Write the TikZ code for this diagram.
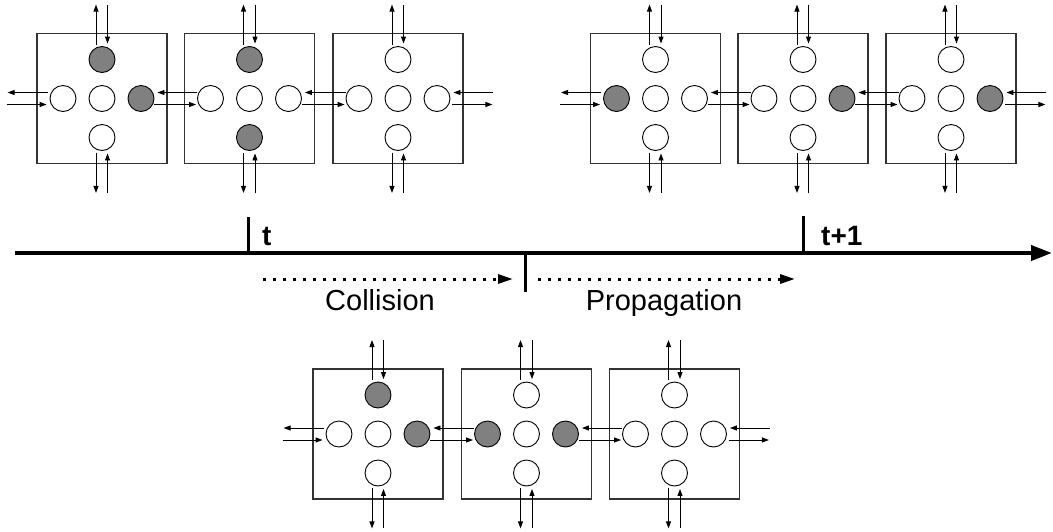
\documentclass[tikz,border=0pt]{standalone}
\usepackage{fontspec}
\setmainfont{Liberation Sans}
\usetikzlibrary{arrows.meta}
\definecolor{occ}{gray}{0.5}

\begin{document}
\begin{tikzpicture}[x=1pt,y=-1pt,
  cellbox/.style={draw=black!80,line width=1.2pt},
  site/.style={circle,draw=black,line width=0.9pt,minimum size=26pt,inner sep=0pt},
  flow/.style={line width=0.9pt,-{Triangle[length=7pt,width=5pt]}},
  tick/.style={line width=3pt},
  phase/.style={line width=3pt,dash pattern=on 3pt off 7pt,-{Triangle[length=15pt,width=9pt]}},
  stamp/.style={font=\fontsize{28}{30}\selectfont\bfseries,inner sep=0pt},
  step label/.style={font=\fontsize{29}{32}\selectfont,inner sep=0pt}]
\useasboundingbox (0,0) rectangle (1053,531);

% Lattice cells: name / centre / fill of north, west, east, south site
\foreach \n/\x/\y/\cn/\cw/\ce/\cs in {
    a1/102/98.5/occ/white/occ/white, a2/249.5/98.5/occ/white/white/occ,
    a3/398/98.5/white/white/white/white,
    b1/655.5/98.5/white/occ/white/white, b2/803/98.5/white/white/occ/white,
    b3/951/98.5/white/white/occ/white,
    c1/378/434/occ/white/occ/white, c2/526.5/434/white/occ/occ/white,
    c3/674.5/434/white/white/white/white} {
  \draw[cellbox] (\x-65,\y-65) rectangle (\x+65,\y+65);
  \node[site,fill=\cn] (\n-n) at (\x,\y-39) {};
  \node[site,fill=\cw] (\n-w) at (\x-39,\y) {};
  \node[site,fill=white] (\n-c) at (\x,\y) {};
  \node[site,fill=\ce] (\n-e) at (\x+39,\y) {};
  \node[site,fill=\cs] (\n-s) at (\x,\y+39) {};
  % streaming in and out through top and bottom
  \draw[flow] ([xshift=-6pt,yshift=1.5pt]\n-n.north) -- ++(0,-40);
  \draw[flow] ([xshift=5.5pt,yshift=41.5pt]\n-n.north) -- ([xshift=5.5pt,yshift=2.5pt]\n-n.north);
  \draw[flow] ([xshift=-6pt,yshift=-2pt]\n-s.south) -- ++(0,40);
  \draw[flow] ([xshift=5.5pt,yshift=-42pt]\n-s.south) -- ([xshift=5.5pt,yshift=-2.5pt]\n-s.south);
}

% links between neighbouring cells
\foreach \l/\r in {a1/a2,a2/a3,b1/b2,b2/b3,c1/c2,c2/c3} {
  \draw[flow,shorten >=3pt] ([yshift=6pt]\r-w.west) -- ([yshift=6pt]\l-e.east);
  \draw[flow,shorten >=1pt] ([yshift=-6pt]\l-e.east) -- ([yshift=-6pt]\r-w.west);
}
% open ends on the left and right
\foreach \r in {a1,b1,c1} {
  \draw[flow] ([xshift=-2pt,yshift=6pt]\r-w.west) -- ++(-40,0);
  \draw[flow] ([xshift=-43pt,yshift=-6pt]\r-w.west) -- ([xshift=-3pt,yshift=-6pt]\r-w.west);
}
\foreach \l in {a3,b3,c3} {
  \draw[flow] ([xshift=43pt,yshift=6pt]\l-e.east) -- ([xshift=3pt,yshift=6pt]\l-e.east);
  \draw[flow] ([xshift=2pt,yshift=-6pt]\l-e.east) -- ++(40,0);
}

% Time axis
\coordinate (axL) at (15,253);
\coordinate (axR) at (1052,253);
\draw[line width=4pt,-{Triangle[length=21pt,width=15pt]}] (axL) -- (axR);
\coordinate (tnow) at (248.5,253);
\coordinate (tmid) at (525,253);
\coordinate (tnext) at (803,253);
\draw[tick] (tnow) -- ++(0,-36);
\draw[tick] (tmid) -- ++(0,39);
\draw[tick] (tnext) -- ++(0,-37);
\node[stamp,anchor=base west] (lnow) at (262,245) {t};
\node[stamp,anchor=base west] (lnext) at (821,245) {t+1};

% the two half steps
\coordinate (colA) at (263,279);
\coordinate (colB) at (513,279);
\coordinate (proA) at (538,279);
\coordinate (proB) at (795,279);
\draw[phase] (colA) -- (colB);
\draw[phase] (proA) -- (proB);
\node[step label,anchor=base] (lcol) at (380,310) {Collision};
\node[step label,anchor=base] (lprop) at (664,310) {Propagation};

\end{tikzpicture}
\end{document}
